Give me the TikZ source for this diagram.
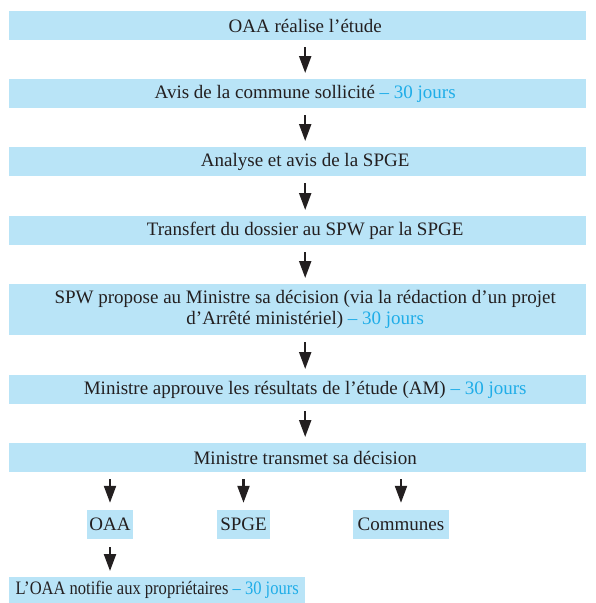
\documentclass[tikz,border=0pt]{standalone}
\usepackage{fontspec}
\setmainfont{Liberation Serif}
\usetikzlibrary{arrows.meta}
\definecolor{boxblue}{HTML}{B9E4F7}
\definecolor{dayblue}{HTML}{1FADE8}
\definecolor{txt}{HTML}{231F20}
\begin{document}
\begin{tikzpicture}[x=1pt,y=-1pt,
  bx/.style={fill=boxblue,inner sep=0pt,text=txt,font=\fontsize{19}{22}\selectfont},
  wide/.style={bx,minimum width=577pt,minimum height=29pt,anchor=north west},
  arr/.style={draw=txt,line width=2.2pt,-{Triangle[width=12pt,length=17pt]}}]
\useasboundingbox (0,0) rectangle (596,603);
\newcommand{\jr}{\textcolor{dayblue}{– 30 jours}}
\newcommand{\sh}{\hspace*{15pt}}
\node[wide] (b1) at (9,11) {\sh OAA réalise l’étude};
\node[wide] (b2) at (9,79) {\sh Avis de la commune sollicité \jr};
\node[wide] (b3) at (9,147) {\sh Analyse et avis de la SPGE};
\node[wide] (b4) at (9,216) {\sh Transfert du dossier au SPW par la SPGE};
\node[wide,minimum height=51pt,align=center] (b5) at (9,284) {\sh SPW propose au Ministre sa décision (via la rédaction d’un projet\\[-1pt]\sh d’Arrêté ministériel) \jr};
\node[wide] (b6) at (9,375) {\sh Ministre approuve les résultats de l’étude (AM) \jr};
\node[wide] (b7) at (9,443) {\sh Ministre transmet sa décision};
\node[bx,minimum width=46pt,minimum height=29pt] (oaa) at (110,524.5) {OAA};
\node[bx,minimum width=53pt,minimum height=29pt] (spge) at (243.5,524.5) {SPGE};
\node[bx,minimum width=96pt,minimum height=29pt] (com) at (401,524.5) {Communes};
\node[bx,minimum width=296pt,minimum height=26pt,anchor=north west] (b8) at (9,577) {\addfontfeature{FakeStretch=0.87}L’OAA notifie aux propriétaires \jr};
\foreach \a/\b in {b1/b2,b2/b3,b3/b4,b4/b5,b5/b6,b6/b7}
  \draw[arr] ([xshift=7.5pt,yshift=-7pt]\a.south) -- ([xshift=7.5pt,yshift=6pt]\b.north);
\draw[arr] ([yshift=-7pt]oaa.north |- b7.south) -- ([yshift=7pt]oaa.north);
\draw[arr] ([yshift=-7pt]spge.north |- b7.south) -- ([yshift=7pt]spge.north);
\draw[arr] ([yshift=-7pt]com.north |- b7.south) -- ([yshift=7pt]com.north);
\draw[arr] ([yshift=-8pt]oaa.south) -- ([yshift=6pt]oaa.south |- b8.north);
\end{tikzpicture}
\end{document}
